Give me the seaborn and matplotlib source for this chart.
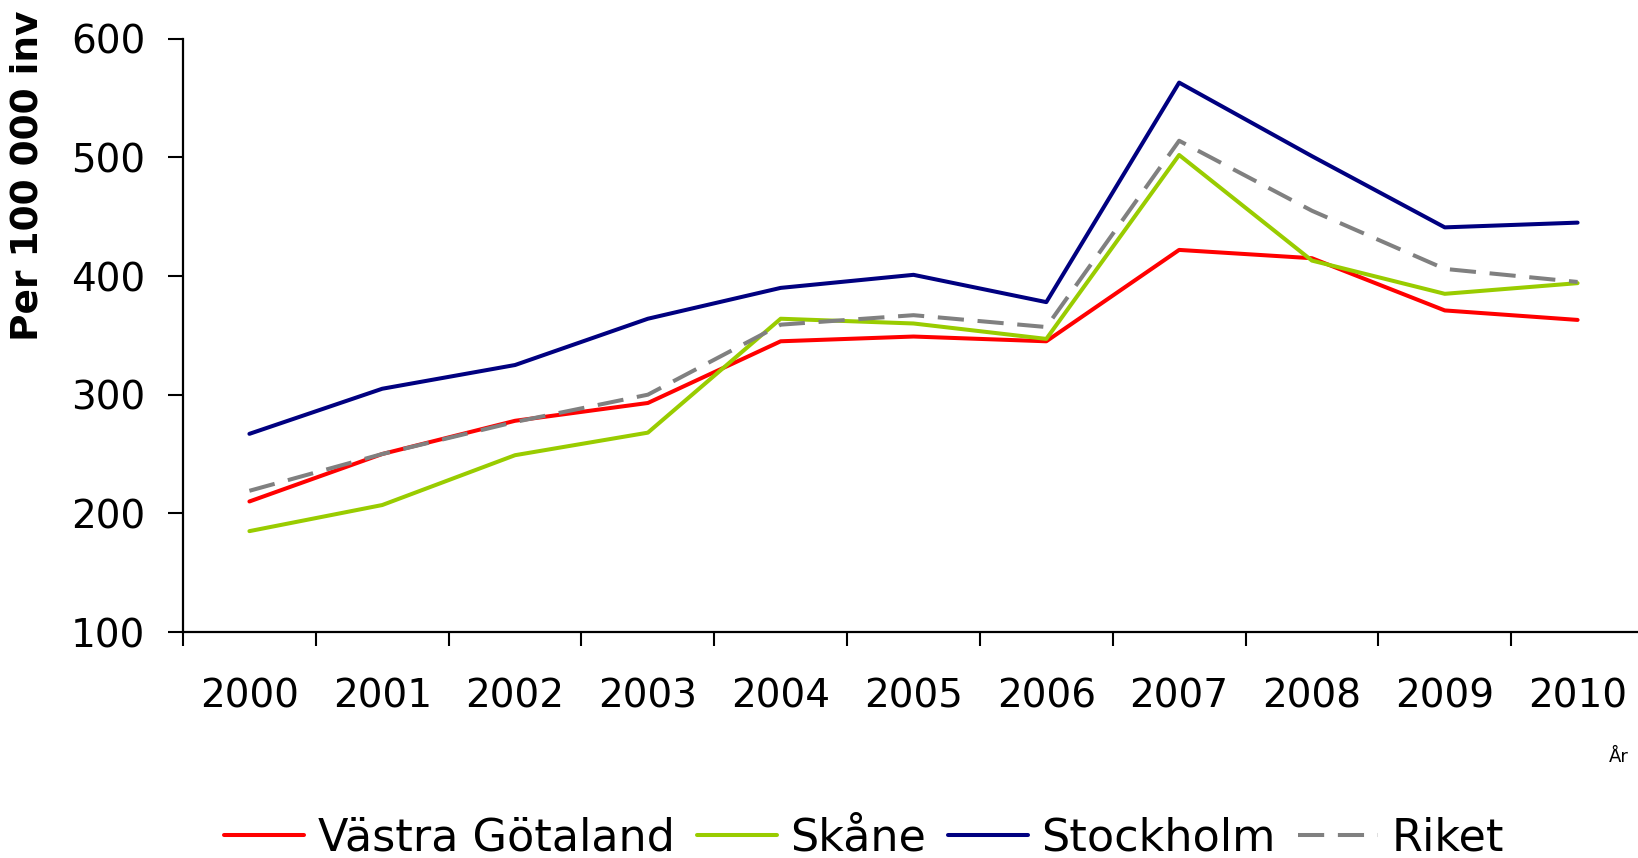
import matplotlib
matplotlib.use("Agg")
import matplotlib.pyplot as plt
import seaborn as sns
import pandas as pd
import numpy as np

years = ["2000", "2001", "2002", "2003", "2004", "2005", "2006", "2007", "2008", "2009", "2010"]
vastra_gotaland = [210, 250, 278, 293, 345, 349, 345, 422, 415, 371, 363]
skane = [185, 207, 249, 268, 364, 360, 347, 502, 413, 385, 394]
stockholm = [267, 305, 325, 364, 390, 401, 378, 563, 501, 441, 445]
riket = [219, 250, 277, 300, 359, 367, 357, 514, 455, 406, 395]

series_names = ["Västra Götaland", "Skåne", "Stockholm", "Riket"]
series_values = [vastra_gotaland, skane, stockholm, riket]
colors = ["#FF0000", "#99CC00", "#000080", "#808080"]

sns.set_style("white")
plt.rcParams["font.family"] = ["DejaVu Sans"]
plt.rcParams["text.color"] = "black"
plt.rcParams["xtick.color"] = "black"
plt.rcParams["ytick.color"] = "black"

fig = plt.figure(figsize=(16.38, 8.58), dpi=100)
ax = fig.add_axes([183 / 1638, 1 - 632 / 858, (1644 - 183) / 1638, (632 - 38.7) / 858])

rows = []
for name, vals in zip(series_names, series_values):
    for y, v in zip(years, vals):
        rows.append({"År": y, "Värde": v, "Serie": name})
df = pd.DataFrame(rows)
df["pos"] = df["År"].map({y: i for i, y in enumerate(years)})

lw = 2.9
for name, col in zip(series_names, colors):
    sub = df[df["Serie"] == name]
    ls = "--" if name == "Riket" else "-"
    sns.lineplot(data=sub, x="pos", y="Värde", ax=ax, color=col, linewidth=lw,
                 label=name, legend=False, linestyle=ls)
for line in ax.get_lines():
    if line.get_label() == "Riket":
        line.set_dashes((6.5, 3.4))

ax.set_xlim(-0.5, len(years) - 0.5)
ax.set_ylim(100, 600)
ax.set_yticks([100, 200, 300, 400, 500, 600])
ax.tick_params(axis="y", which="major", direction="out", length=11, width=1.5,
               pad=16, labelsize=28, left=True, colors="black")

ax.set_xticks(np.arange(-0.5, len(years), 1.0))
ax.set_xticklabels([])
ax.set_xticks(np.arange(len(years)), minor=True)
ax.set_xticklabels(years, minor=True)
ax.tick_params(axis="x", which="major", direction="out", length=10, width=1.5, bottom=True)
ax.tick_params(axis="x", which="minor", length=0, pad=33, labelsize=28, bottom=True,
               colors="black")

for s in ["top", "right"]:
    ax.spines[s].set_visible(False)
for s in ["left", "bottom"]:
    ax.spines[s].set_color("black")
    ax.spines[s].set_linewidth(1.6)

ax.set_xlabel("")
ax.set_ylabel("")
ax.grid(False)

fig.text(28 / 1638, 1 - 176 / 858, "Per 100 000 inv", rotation=90, ha="center", va="center",
         fontsize=27, fontweight="bold", color="black")
fig.text(1619 / 1638, 1 - 757 / 858, "År", ha="center", va="center", fontsize=13, color="black")

handles, labels = ax.get_legend_handles_labels()
leg = fig.legend(handles, labels, loc="center", bbox_to_anchor=(864 / 1638, 1 - 838 / 858),
                 ncol=4, frameon=False, fontsize=32, handlelength=1.8, handletextpad=0.3,
                 columnspacing=0.5, borderaxespad=0, borderpad=0)
for t in leg.get_texts():
    t.set_color("black")

fig.savefig("out.png", dpi=100)
